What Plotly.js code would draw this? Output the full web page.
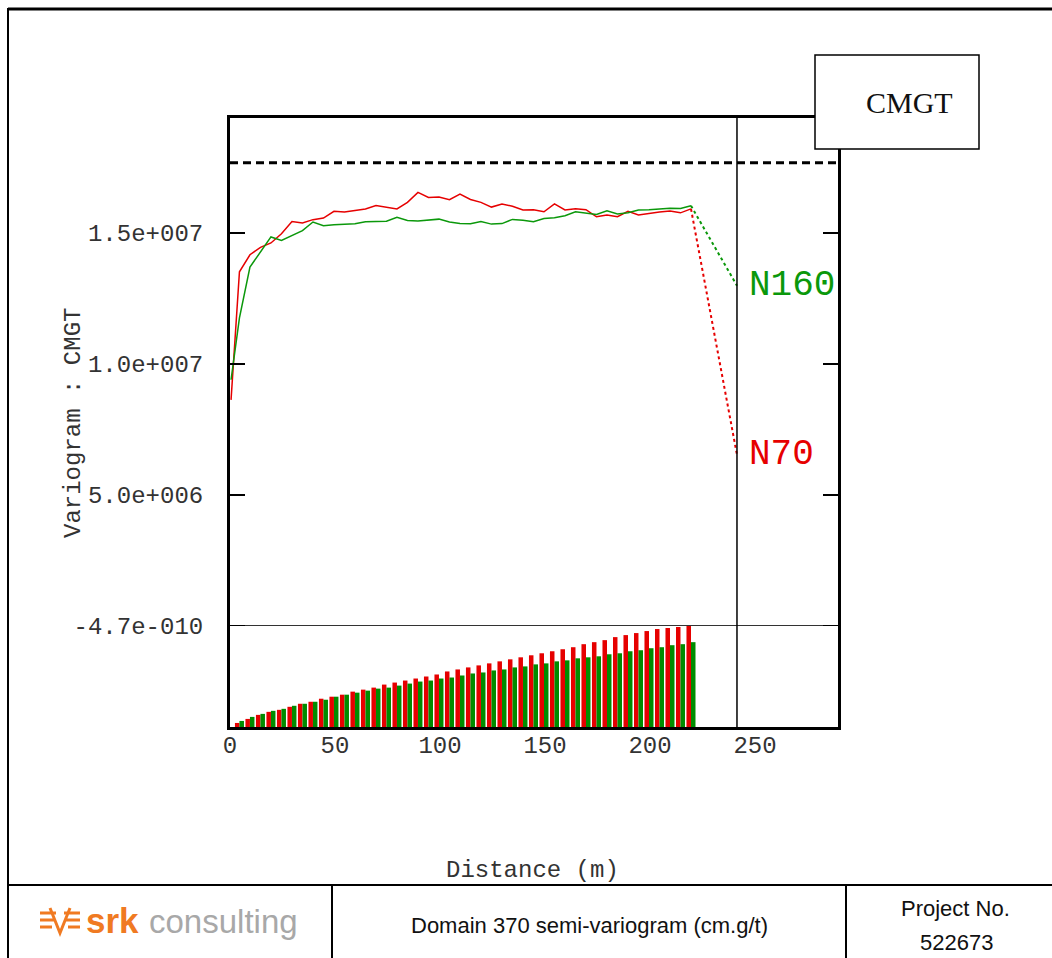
<!DOCTYPE html>
<html>
<head>
<meta charset="utf-8">
<script src="https://cdn.plot.ly/plotly-3.0.1.min.js"></script>
<style>
html,body{margin:0;padding:0;background:#fff;}
#chart{width:1052px;height:958px;}
</style>
</head>
<body>
<div id="chart"></div>
<script>
// ---- data ----
const lagDist = [0.5, 4.5, 9.5, 14.5, 19.5, 24.5, 29.5, 34.5, 39.5, 44.5,
  49.5, 54.5, 59.5, 64.5, 69.5, 74.5, 79.5, 84.5, 89.5, 94.5,
  99.5, 104.5, 109.5, 114.5, 119.5, 124.5, 129.5, 134.5, 139.5, 144.5,
  149.5, 154.5, 159.5, 164.5, 169.5, 174.5, 179.5, 184.5, 189.5, 194.5,
  199.5, 204.5, 209.5, 214.5, 219.5];
const gammaN70 = [8.63e6, 13.52e6, 14.17e6, 14.45e6, 14.62e6, 14.97e6, 15.44e6, 15.38e6, 15.51e6, 15.57e6,
  15.83e6, 15.80e6, 15.86e6, 15.92e6, 16.05e6, 15.99e6, 15.92e6, 16.17e6, 16.55e6, 16.36e6,
  16.37e6, 16.27e6, 16.49e6, 16.28e6, 16.17e6, 15.99e6, 16.11e6, 16.02e6, 15.88e6, 15.89e6,
  15.81e6, 16.11e6, 15.88e6, 15.93e6, 15.89e6, 15.62e6, 15.69e6, 15.62e6, 15.83e6, 15.69e6,
  15.75e6, 15.80e6, 15.84e6, 15.77e6, 15.92e6];
const gammaN160 = [9.40e6, 11.76e6, 13.70e6, 14.26e6, 14.85e6, 14.72e6, 14.91e6, 15.09e6, 15.42e6, 15.28e6,
  15.32e6, 15.34e6, 15.35e6, 15.43e6, 15.45e6, 15.45e6, 15.60e6, 15.48e6, 15.46e6, 15.50e6,
  15.53e6, 15.42e6, 15.36e6, 15.35e6, 15.44e6, 15.34e6, 15.36e6, 15.52e6, 15.49e6, 15.43e6,
  15.55e6, 15.58e6, 15.66e6, 15.81e6, 15.77e6, 15.71e6, 15.85e6, 15.73e6, 15.77e6, 15.88e6,
  15.89e6, 15.92e6, 15.95e6, 15.94e6, 16.04e6];
// number of pairs per lag (lags 4.5 ... 219.5)
const pairsN70 = [120, 240, 360, 450, 510, 600, 690, 750, 840, 900, 960, 1050, 1110, 1170, 1260, 1320,
  1380, 1440, 1500, 1560, 1650, 1710, 1770, 1830, 1890, 1950, 2010, 2070, 2130, 2190, 2250, 2310,
  2370, 2460, 2520, 2580, 2670, 2730, 2790, 2850, 2910, 2940, 2970, 3000];
const pairsN160 = [180, 300, 390, 480, 540, 630, 690, 750, 810, 900, 960, 1020, 1080, 1140, 1170, 1230,
  1290, 1350, 1380, 1440, 1470, 1530, 1590, 1620, 1680, 1710, 1770, 1800, 1860, 1890, 1950, 1980,
  2040, 2070, 2100, 2160, 2190, 2250, 2280, 2340, 2370, 2430, 2460, 2520];
const extDist = 241.4;          // end of the dotted extensions / vertical marker
const extN70 = 6.53e6;
const extN160 = 12.99e6;
const sill = 17.68e6;
const yTickVals = [0, 5e6, 1e7, 1.5e7];
const yTickText = ['-4.7e-010', '5.0e+006', '1.0e+007', '1.5e+007'];
const xTickVals = [0, 50, 100, 150, 200, 250];

// ---- styling ----
const RED = '#e60000', GREEN = '#0b980b';
const MONO = 'Liberation Mono, monospace';
const SANS = 'Liberation Sans, Arial, sans-serif';
const L = 230, R = 838, T = 118, B = 727, W = 1052, H = 958;
const xp = px => (px - L) / (R - L);
const yp = py => (B - py) / (B - T);

const last = lagDist.length - 1;
const barX = lagDist.slice(1);

const traces = [
  {x: barX, y: pairsN70, type: 'bar', yaxis: 'y2', marker: {color: RED, line: {width: 0}}, hoverinfo: 'skip'},
  {x: barX, y: pairsN160, type: 'bar', yaxis: 'y2', marker: {color: '#008c00', line: {width: 0}}, hoverinfo: 'skip'},
  {x: lagDist, y: gammaN70, type: 'scatter', mode: 'lines', line: {color: RED, width: 1.5}},
  {x: lagDist, y: gammaN160, type: 'scatter', mode: 'lines', line: {color: GREEN, width: 1.5}},
  {x: [lagDist[last], extDist], y: [gammaN70[last], extN70], type: 'scatter', mode: 'lines',
   line: {color: RED, width: 2, dash: 'dot'}},
  {x: [lagDist[last], extDist], y: [gammaN160[last], extN160], type: 'scatter', mode: 'lines',
   line: {color: GREEN, width: 2, dash: 'dot'}}
];

const ln = (x0, y0, x1, y1, w) => ({type: 'line', xref: 'paper', yref: 'paper',
  x0: xp(x0), y0: yp(y0), x1: xp(x1), y1: yp(y1), line: {color: 'black', width: w}});

const logoPath = () => {
  const segs = [[40, 913, 56, 913], [64, 913, 80, 913], [40, 920, 54, 920], [66, 920, 80, 920],
                [40, 927, 52, 927], [68, 927, 80, 927]];
  let d = '';
  segs.forEach(s => { d += `M${xp(s[0])},${yp(s[1])} L${xp(s[2])},${yp(s[3])} `; });
  d += `M${xp(50)},${yp(908)} L${xp(60)},${yp(933)} L${xp(70)},${yp(908)}`;
  return d;
};

const ann = (px, py, text, font, extra) => Object.assign({xref: 'paper', yref: 'paper',
  x: xp(px), y: yp(py), xanchor: 'center', yanchor: 'middle', text: text, showarrow: false, font: font}, extra || {});

const layout = {
  width: W, height: H,
  margin: {l: L, r: W - R, t: T, b: H - B, pad: 0},
  paper_bgcolor: '#fff', plot_bgcolor: '#fff',
  showlegend: false,
  barmode: 'group', bargap: 0.14, bargroupgap: 0,
  xaxis: {
    range: [0, 289.5], tickvals: xTickVals, ticks: 'inside', ticklen: 15, tickwidth: 2, tickcolor: '#000',
    showline: true, linewidth: 3, linecolor: '#000', mirror: true, showgrid: false, zeroline: false,
    tickfont: {family: MONO, size: 24, color: '#333'}, ticklabelstandoff: -6
  },
  yaxis: {
    range: [-3.855e6, 19.39e6], tickvals: yTickVals, ticktext: yTickText,
    ticks: 'inside', ticklen: 15, tickwidth: 2, tickcolor: '#000',
    showline: true, linewidth: 3, linecolor: '#000', mirror: 'ticks', showgrid: false,
    zeroline: true, zerolinecolor: '#333', zerolinewidth: 1.5,
    tickfont: {family: MONO, size: 24, color: '#333'}, ticklabelstandoff: 19
  },
  yaxis2: {
    domain: [0, (B - 626) / (B - T)], range: [0, 3000], anchor: 'x',
    showline: false, showgrid: false, zeroline: false, showticklabels: false, ticks: ''
  },
  shapes: [
    {type: 'line', xref: 'paper', x0: 0, x1: 1, yref: 'y', y0: sill, y1: sill,
     line: {color: '#000', width: 3, dash: '8px,5px'}},
    {type: 'line', xref: 'x', x0: extDist, x1: extDist, yref: 'paper', y0: 0, y1: 1,
     line: {color: '#000', width: 1.5}},
    {type: 'rect', xref: 'paper', yref: 'paper', x0: xp(815), x1: xp(979), y0: yp(149), y1: yp(55),
     fillcolor: '#fff', line: {color: '#000', width: 1.5}},
    ln(8, 9, 1052, 9, 3),
    ln(8, 8, 8, 958, 2),
    ln(8, 885, 1052, 885, 2),
    ln(332, 885, 332, 958, 2),
    ln(846, 885, 846, 958, 2),
    {type: 'path', xref: 'paper', yref: 'paper', path: logoPath(), line: {color: '#f07a22', width: 3}}
  ],
  annotations: [
    ann(909, 103, 'CMGT', {family: 'Liberation Serif, serif', size: 30, color: '#111'}),
    {xref: 'x', yref: 'y', x: extDist, y: extN160, xshift: 10, xanchor: 'left', yanchor: 'middle',
     text: 'N160', showarrow: false, font: {family: MONO, size: 36, color: GREEN}},
    {xref: 'x', yref: 'y', x: extDist, y: extN70, xshift: 10, xanchor: 'left', yanchor: 'middle',
     text: 'N70', showarrow: false, font: {family: MONO, size: 36, color: RED}},
    ann(74, 423, 'Variogram : CMGT', {family: MONO, size: 24, color: '#333'}, {textangle: -90}),
    ann(532, 870, 'Distance (m)', {family: MONO, size: 24, color: '#333'}),
    ann(589, 925, 'Domain 370 semi-variogram (cm.g/t)', {family: SANS, size: 22, color: '#111'}),
    ann(955, 908, 'Project No.', {family: SANS, size: 22, color: '#111'}),
    ann(956, 942, '522673', {family: SANS, size: 22, color: '#111'}),
    ann(84, 920, '<b>srk</b>', {family: SANS, size: 35, color: '#f07a22'}, {xanchor: 'left'}),
    ann(147, 921, 'consulting', {family: SANS, size: 33, color: '#a8a8a8'}, {xanchor: 'left'})
  ]
};

Plotly.newPlot('chart', traces, layout, {staticPlot: true, displayModeBar: false});
</script>
</body>
</html>
